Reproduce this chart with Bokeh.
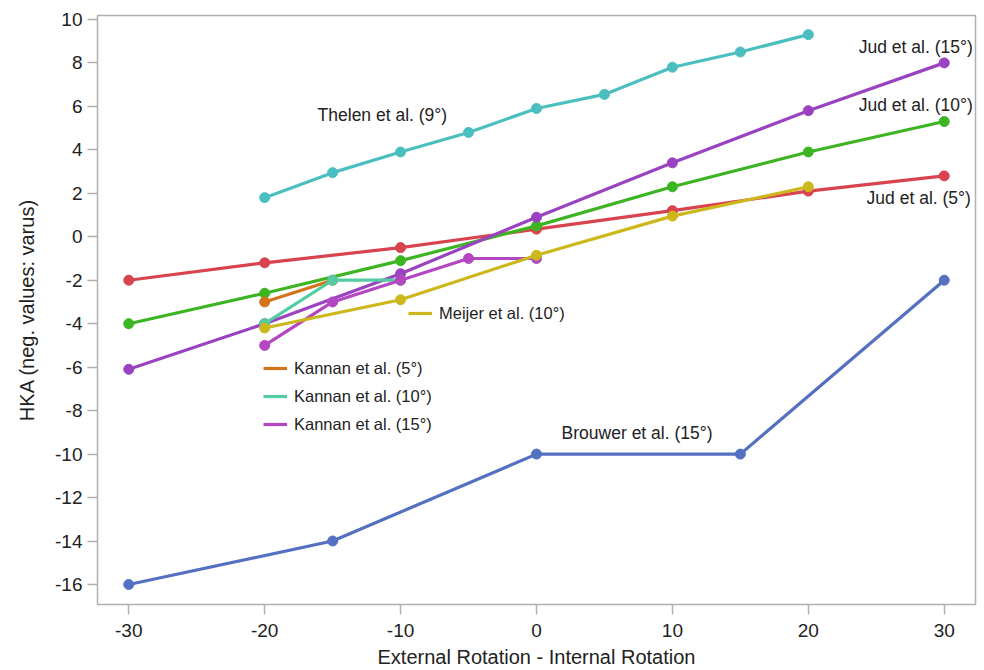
from bokeh.plotting import figure
from bokeh.models import Label, Legend, LegendItem, FixedTicker, CustomJSTickFormatter
from bokeh.embed import file_html
from bokeh.resources import INLINE

# ---- data ----
jud5_x = [-30, -20, -10, 0, 10, 20, 30]
jud5_y = [-2.0, -1.2, -0.5, 0.35, 1.2, 2.1, 2.8]
jud10_x = [-30, -20, -10, 0, 10, 20, 30]
jud10_y = [-4.0, -2.6, -1.1, 0.5, 2.3, 3.9, 5.3]
jud15_x = [-30, -20, -10, 0, 10, 20, 30]
jud15_y = [-6.1, -4.0, -1.7, 0.9, 3.4, 5.8, 8.0]
thelen_x = [-20, -15, -10, -5, 0, 5, 10, 15, 20]
thelen_y = [1.8, 2.95, 3.9, 4.8, 5.9, 6.55, 7.8, 8.5, 9.3]
brouwer_x = [-30, -15, 0, 15, 30]
brouwer_y = [-16, -14, -10, -10, -2]
kannan5_x = [-20, -15]
kannan5_y = [-3.0, -2.0]
kannan10_x = [-20, -15, -10]
kannan10_y = [-4.0, -2.0, -2.0]
kannan15_x = [-20, -15, -10, -5, 0]
kannan15_y = [-5.0, -3.0, -2.0, -1.0, -1.0]
meijer_x = [-20, -10, 0, 10, 20]
meijer_y = [-4.2, -2.9, -0.85, 0.95, 2.3]

x_ticks = [-30, -20, -10, 0, 10, 20, 30]
y_ticks = [-16, -14, -12, -10, -8, -6, -4, -2, 0, 2, 4, 6, 8, 10]

FONT = "Liberation Sans"
LEG_SIZE = "16.5px"
ANN_SIZE = "17.5px"

p = figure(frame_width=878, frame_height=589, output_backend="svg", toolbar_location=None,
           x_range=(-32.3, 32.3), y_range=(-16.92, 10.18),
           min_border_left=97, min_border_top=15, min_border_right=8, min_border_bottom=66)
p.background_fill_color = "white"
p.outline_line_color = "#b0b0b0"
p.outline_line_width = 1.5
p.xgrid.visible = False
p.ygrid.visible = False

fmt = CustomJSTickFormatter(code="return tick.toString();")
for ax in (p.xaxis[0], p.yaxis[0]):
    ax.axis_line_color = None
    ax.major_tick_line_color = "#b0b0b0"
    ax.major_tick_line_width = 1.5
    ax.major_tick_out = 10
    ax.major_tick_in = 0
    ax.minor_tick_line_color = None
    ax.major_label_text_font = FONT
    ax.major_label_text_font_size = "19px"
    ax.major_label_text_color = "#222222"
    ax.axis_label_text_font = FONT
    ax.axis_label_text_font_size = "20px"
    ax.axis_label_text_font_style = "normal"
    ax.axis_label_text_color = "#222222"
    ax.formatter = fmt

p.xaxis.ticker = FixedTicker(ticks=x_ticks)
p.yaxis.ticker = FixedTicker(ticks=y_ticks)
p.xaxis.axis_label = "External Rotation - Internal Rotation"
p.yaxis.axis_label = "HKA (neg. values: varus)"
p.xaxis.major_label_standoff = 9
p.yaxis.major_label_standoff = 5
p.xaxis.axis_label_standoff = 6
p.yaxis.axis_label_standoff = 14

series = [
    (jud5_x, jud5_y, "#d8434e"),
    (jud10_x, jud10_y, "#3db422"),
    (jud15_x, jud15_y, "#9a43c1"),
    (thelen_x, thelen_y, "#4bbfbf"),
    (brouwer_x, brouwer_y, "#5470c0"),
    (kannan5_x, kannan5_y, "#d4731c"),
    (kannan10_x, kannan10_y, "#52cca0"),
    (kannan15_x, kannan15_y, "#b446c1"),
    (meijer_x, meijer_y, "#cdb81c"),
]
renderers = []
for xs, ys, c in series:
    r = p.line(xs, ys, line_color=c, line_width=3.2)
    p.scatter(xs, ys, size=10, fill_color=c, line_color=c)
    renderers.append(r)

legend_kannan = Legend(items=[
    LegendItem(label="Kannan et al. (5°)", renderers=[renderers[5]]),
    LegendItem(label="Kannan et al. (10°)", renderers=[renderers[6]]),
    LegendItem(label="Kannan et al. (15°)", renderers=[renderers[7]]),
], location=(166, 170))
legend_meijer = Legend(items=[
    LegendItem(label="Meijer et al. (10°)", renderers=[renderers[8]]),
], location=(311, 281))
for lg in (legend_kannan, legend_meijer):
    lg.padding = 0
    lg.margin = 0
    lg.spacing = 8
    lg.glyph_width = 24
    lg.glyph_height = 20
    lg.label_height = 20
    lg.label_standoff = 7
    lg.label_text_font = FONT
    lg.label_text_font_size = LEG_SIZE
    lg.label_text_color = "#222222"
    lg.background_fill_alpha = 0
    lg.border_line_color = None
    p.add_layout(lg)

labels = [
    ("Thelen et al. (9°)", -11.34, 5.6, "center"),
    ("Jud et al. (15°)", 32.1, 8.71, "right"),
    ("Jud et al. (10°)", 32.1, 6.04, "right"),
    ("Jud et al. (5°)", 31.96, 1.8, "right"),
    ("Brouwer et al. (15°)", 7.4, -9.05, "center"),
]
for txt, x, y, al in labels:
    p.add_layout(Label(x=x, y=y, text=txt, text_align=al, text_baseline="middle",
                       text_font=FONT, text_font_size=ANN_SIZE, text_color="#222222"))

open("out.html", "w").write(file_html(p, INLINE))
